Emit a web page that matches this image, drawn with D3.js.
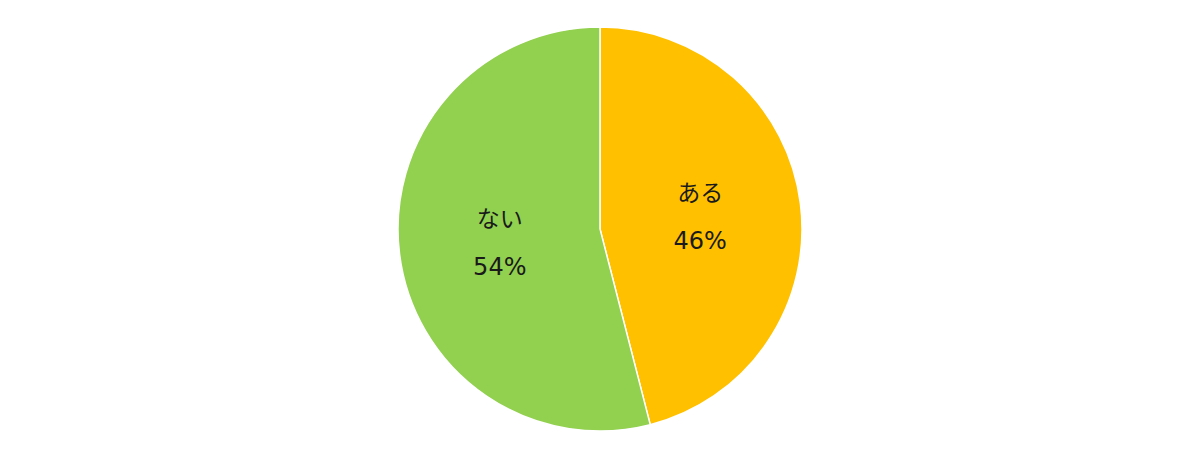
<!DOCTYPE html>
<html>
<head>
<meta charset="utf-8">
<script src="https://cdn.jsdelivr.net/npm/d3@7"></script>
<style>
  body { margin:0; background:#fff; }
  text { font-family: "Noto Sans CJK JP", "Noto Sans", sans-serif; }
  .pct { font-family: "DejaVu Sans", "Noto Sans CJK JP", sans-serif; }
</style>
</head>
<body>
<div id="chart"></div>
<script>
const labels = ["ある", "ない"];
const values = [46, 54];
const colors = ["#FFC000", "#92D050"];

var width = 1200, height = 458;
var cx = 600, cy = 229, radius = 202;

var svg = d3.select("#chart")
    .append("svg")
    .attr("width", width)
    .attr("height", height);

var g = svg.append("g")
    .attr("transform", "translate(" + cx + "," + cy + ")");

var pie = d3.pie().sort(null).value(d => d);
var arcs = pie(values);

var arc = d3.arc().innerRadius(0).outerRadius(radius);
var labelArc = d3.arc().innerRadius(radius * 0.5).outerRadius(radius * 0.5);

g.selectAll("path")
    .data(arcs)
    .enter()
    .append("path")
    .attr("d", arc)
    .attr("fill", (d, i) => colors[i])
    .attr("stroke", "#fff")
    .attr("stroke-width", 1.5);

// labels: name on top, percent below
var lbl = g.selectAll(".lbl")
    .data(arcs)
    .enter()
    .append("g")
    .attr("class", "lbl")
    .attr("transform", d => "translate(" + labelArc.centroid(d) + ")");

lbl.append("text")
    .attr("text-anchor", "middle")
    .attr("y", -15)
    .style("font-size", "23px")
    .style("fill", "#1a1a1a")
    .text((d, i) => labels[i]);

lbl.append("text")
    .attr("class", "pct")
    .attr("text-anchor", "middle")
    .attr("y", 33)
    .style("font-size", "24px")
    .style("fill", "#1a1a1a")
    .text(d => d.data + "%");
</script>
</body>
</html>
